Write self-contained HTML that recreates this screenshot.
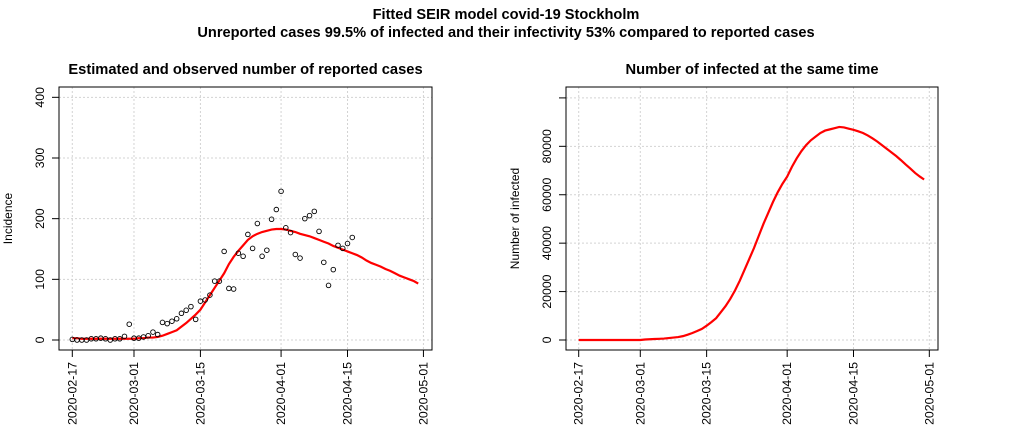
<!DOCTYPE html>
<html><head><meta charset="utf-8"><style>
html,body{margin:0;padding:0;background:#fff;}
svg{display:block;font-family:"Liberation Sans",Arial,sans-serif;}
</style></head><body>
<svg id="c" width="1012" height="438" viewBox="0 0 1012 438">
<text x="506" y="19" text-anchor="middle" font-size="14.6" font-weight="bold">Fitted SEIR model covid-19 Stockholm</text>
<text x="506" y="37" text-anchor="middle" font-size="14.6" font-weight="bold">Unreported cases 99.5% of infected and their infectivity 53% compared to reported cases</text>
</svg>
<script>
const tickDays=[0,13,27,44,58,74];
const tickLabels=["2020-02-17","2020-03-01","2020-03-15","2020-04-01","2020-04-15","2020-05-01"];
const observed=[1,0,0,0,2,2,3,2,0,2,2,6,26,3,3,5,7,13,9,29,27,31,35,44,49,55,34,64,66,74,97,97,146,85,84,143,138,174,151,192,138,148,199,215,245,185,177,141,135,200,205,212,179,128,90,116,156,151,159,169];
const fitted=[3,3,2,2,2,2,2,2,2,2,2,2,2,2,3,3,4,4,5,7,10,13,16,22,28,35,42,50,62,74,86,98,110,125,137,147,156,165,171,175,178,180,182,183,183,182,180,178,175,173,171,168,165,162,159,155,152,149,146,143,140,136,131,127,124,121,117,114,110,106,103,100,97,93];
const infectedK=[0,0,0,0,0,0,0,0,0,0,0,0,0,0,0.2,0.3,0.4,0.5,0.6,0.8,1.0,1.2,1.6,2.2,2.9,3.7,4.6,5.9,7.4,9,11.5,14,17,20.5,24.5,29,33.5,38,43,48,52.5,57,61,64.5,67.5,71.5,75,78,80.5,82.5,84,85.5,86.5,87,87.5,88,87.8,87.3,86.8,86.2,85.5,84.5,83.3,82,80.5,79,77.5,76,74.3,72.5,70.8,69,67.5,66.3];
const leftYTicks=[0,100,200,300,400];
const rightYTicks=[0,20000,40000,60000,80000,100000];
const rightYLabels=["0","20000","40000","60000","80000",""];

const NS="http://www.w3.org/2000/svg";
const svg=document.getElementById('c');
function mk(tag,attrs,parent){const e=document.createElementNS(NS,tag);for(const k in attrs)e.setAttribute(k,attrs[k]);(parent||svg).appendChild(e);return e;}

function panel(o){
  const g=mk('g',{});
  
  
  const x=d=>o.x0+d*o.dx;
  const y=v=>o.y0-v*o.sy;
  tickDays.forEach(d=>{const l=mk('line',{x1:x(d),x2:x(d),y1:o.top,y2:o.bottom,stroke:'#d3d3d3','stroke-dasharray':'2,2'},g);
    });
  o.yt.forEach(v=>{const l=mk('line',{x1:o.left,x2:o.right,y1:y(v),y2:y(v),stroke:'#d3d3d3','stroke-dasharray':'2,2'},g);
    });
  const b=mk('rect',{x:o.left,y:o.top,width:o.right-o.left,height:o.bottom-o.top,fill:'none',stroke:'#000','stroke-width':1},g);
  
  tickDays.forEach((d,i)=>{
    const t=mk('line',{x1:x(d),x2:x(d),y1:o.bottom,y2:o.bottom+7,stroke:'#000'},g);
    
    const tx=mk('text',{x:0,y:0,'font-size':12.3,'text-anchor':'end',transform:`translate(${x(d)+4},${o.bottom+12}) rotate(-90)`},g);
    tx.textContent=tickLabels[i];
    
  });
  o.yt.forEach((v,i)=>{
    const t=mk('line',{x1:o.left-7,x2:o.left,y1:y(v),y2:y(v),stroke:'#000'},g);
    
    const tx=mk('text',{x:0,y:0,'font-size':12.3,'text-anchor':'middle',transform:`translate(${o.left-15},${y(v)}) rotate(-90)`},g);
    tx.textContent=o.yl[i];
    
  });
  const ti=mk('text',{x:(o.left+o.right)/2,y:74,'font-size':14.7,'font-weight':'bold','text-anchor':'middle'},g);
  ti.textContent=o.title;
  const yt=mk('text',{x:0,y:0,'font-size':12,'text-anchor':'middle',transform:`translate(${o.ylx},${(o.top+o.bottom)/2}) rotate(-90)`},g);
  yt.textContent=o.ylabel;
  return {g,x,y};
}

const L=panel({name:'reported-cases-panel',left:59,right:432,top:87,bottom:350,x0:72.3,dx:4.745,y0:340,sy:0.6067,yt:leftYTicks,yl:leftYTicks.map(String),title:'Estimated and observed number of reported cases',ylabel:'Incidence',ylx:12});
const fl=mk('polyline',{points:fitted.map((v,i)=>L.x(i===fitted.length-1?i-0.1:i)+','+L.y(v)).join(' '),fill:'none',stroke:'#ff0000','stroke-width':2.2},L.g);

observed.forEach((v,i)=>{const c=mk('circle',{cx:L.x(i),cy:L.y(v),r:2.3,fill:'none',stroke:'#000','stroke-width':0.9},L.g);
  });

const R=panel({name:'infected-panel',left:566,right:938,top:87,bottom:350,x0:578.7,dx:4.738,y0:340,sy:0.002421,yt:rightYTicks,yl:rightYLabels,title:'Number of infected at the same time',ylabel:'Number of infected',ylx:519});
const il=mk('polyline',{points:infectedK.map((v,i)=>R.x(i===infectedK.length-1?i-0.1:i)+','+R.y(v*1000)).join(' '),fill:'none',stroke:'#ff0000','stroke-width':2.2},R.g);

</script>
</body></html>
